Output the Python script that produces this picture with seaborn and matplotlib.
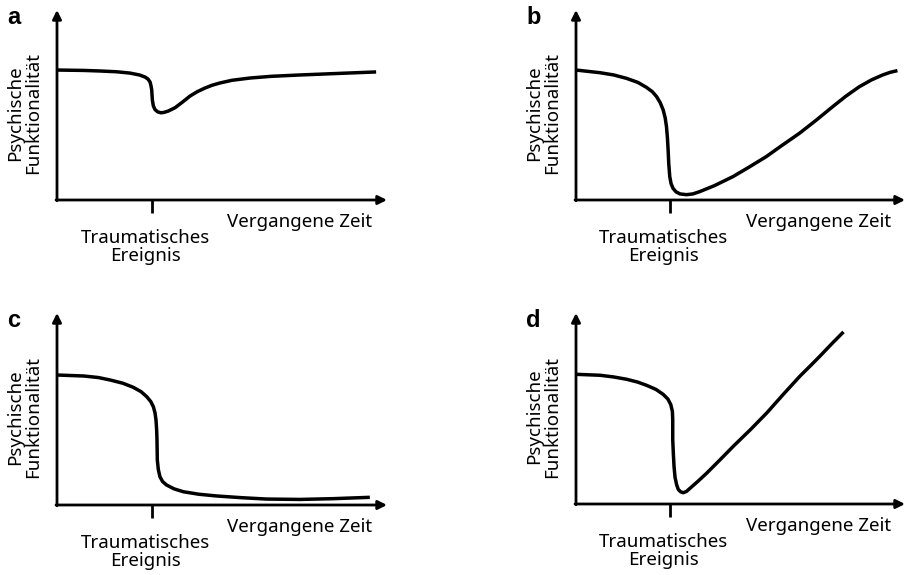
import numpy as np
import matplotlib as mpl
mpl.use('Agg')
import matplotlib.pyplot as plt
import seaborn as sns

################################################################################
# DATA (schematic curves; x = time, y = functioning)
################################################################################

event_time = 28.7

time_a = [0, 8, 13, 18, 22.1, 25, 26.7, 27.6, 28.2, 28.5, 28.7, 28.9, 29.2, 29.7,
          30.5, 31.5, 32.4, 33.7, 35.8, 38, 40.3, 42.5, 44.8, 47, 49.4, 53,
          58.5, 65, 73.6, 85, 96.7]
func_a = [68.4, 68.2, 67.9, 67.5, 66.8, 65.8, 64.7, 63.6, 62.1, 60, 57.9, 52.6,
          49.5, 47.6, 46.4, 45.9, 46.1, 46.8, 48.6, 51.5, 54.7, 57, 58.9, 60.4,
          61.6, 63, 64.2, 65.1, 65.8, 66.6, 67.4]

time_b = [0, 7.3, 11.5, 15.4, 18.8, 21.4, 23.2, 24.5, 25.6, 26.5, 27.1, 27.5,
          27.8, 28.0, 28.2, 28.5, 28.9, 29.5, 30.4, 31.6, 33.6, 35.5, 37.6, 42,
          47.7, 52.5, 57.8, 62.5, 67.9, 73, 78.0, 82, 86.1, 89.8, 93.2, 95.5, 97.7]
func_b = [68.4, 67.0, 65.8, 64.0, 61.9, 59.3, 57.0, 54.4, 51.2, 47.4, 43.3, 38.6,
          32.5, 26.3, 19, 12.3, 8.6, 6.1, 4.3, 3.2, 2.8, 3.2, 4.4, 7.5, 12.3, 17.2,
          22.8, 28.6, 35.1, 42.0, 49.1, 54.6, 59.6, 63.2, 65.8, 67.2, 68.1]

time_c = [0, 8.0, 12.5, 16.1, 20, 23.1, 25.5, 27.2, 28.4, 29.2, 29.7, 30.0, 30.2,
          30.3, 30.4, 30.7, 31.2, 32.0, 33.2, 35.5, 38.3, 43, 48.4, 56, 63.5,
          73.6, 83.7, 94.8]
func_c = [67.7, 67.2, 66.4, 65.1, 63.4, 61.3, 59.0, 56.4, 53.9, 51.2, 48.0, 44.3,
          39, 33.9, 23.4, 18.5, 14.7, 12.2, 10.4, 8.4, 6.9, 5.6, 4.7, 3.8, 3.1,
          2.9, 3.3, 4.0]

time_d = [0, 7.3, 11.5, 15.4, 18.8, 21.5, 24.3, 26.5, 27.9, 28.8, 29.3, 29.4,
          29.4, 29.4, 29.6, 29.8, 30.1, 30.6, 31.1, 31.8, 32.6, 33.6, 34.7, 37,
          39.7, 43.7, 47.8, 53, 58.0, 63, 68.1, 71.2, 74.2, 77.8, 81.3]
func_d = [67.9, 67.4, 66.5, 65.3, 63.8, 62.1, 60.0, 57.4, 55.0, 52.1, 48.5, 44.2,
          39, 33.7, 26, 19.6, 14, 10.0, 7.6, 6.4, 5.9, 6.6, 8.3, 11.8, 16.1,
          23.0, 30.2, 38.9, 47.7, 57.4, 67.0, 72.3, 77.5, 84.0, 90.1]

panel_letters = ['a', 'b', 'c', 'd']
panel_times = [time_a, time_b, time_c, time_d]
panel_funcs = [func_a, func_b, func_c, func_d]

ylabel_text = 'Psychische\nFunktionalität'
xlabel_text = 'Vergangene Zeit'
event_text = 'Traumatisches\nEreignis'

################################################################################
# PLOT
################################################################################

sns.set_theme(style='white')
plt.rcParams['font.family'] = ['Noto Sans', 'DejaVu Sans']
plt.rcParams['text.color'] = 'black'

W, H = 907, 575
fig = plt.figure(figsize=(W / 100, H / 100), dpi=100)

# axes boxes in pixels: (left, top arrow tip, right arrow tip, x-axis row)
boxes = [(57, 10, 387, 200), (576, 10, 905, 200),
         (57, 313, 387, 505), (576, 313, 905, 504)]

for letter, t, f, (l, top, r, bot) in zip(panel_letters, panel_times, panel_funcs, boxes):
    ax = fig.add_axes([l / W, 1 - bot / H, (r - l) / W, (bot - top) / H])
    ax.set_xlim(0, 100)
    ax.set_ylim(0, 100)
    for s in ax.spines.values():
        s.set_visible(False)
    ax.set_yticks([])
    ax.set_xticks([event_time])
    ax.set_xticklabels([''])
    ax.tick_params(axis='x', bottom=True, direction='out', length=9.5, width=2.0,
                   color='black', pad=0)

    # axes with arrow heads
    arrow = dict(arrowstyle='-|>', lw=2.0, color='black', shrinkA=0, shrinkB=0,
                 mutation_scale=13)
    ax.annotate('', xy=(0, 1), xytext=(0, -0.004), xycoords='axes fraction',
                arrowprops=arrow, annotation_clip=False)
    ax.annotate('', xy=(1, 0), xytext=(-0.003, 0), xycoords='axes fraction',
                arrowprops=arrow, annotation_clip=False)

    sns.lineplot(x=t, y=f, sort=False, estimator=None, color='black', lw=2.5,
                 ax=ax, clip_on=False, solid_capstyle='butt')

    ax.text(73.6, -11.6, xlabel_text, ha='center', va='center', fontsize=13.5,
            color='black', clip_on=False)
    ax.text(26.7, -24.5, event_text, ha='center', va='center', fontsize=13.5,
            linespacing=1.0, color='black', clip_on=False)
    ax.text(-9.9, 45.8, ylabel_text, ha='center', va='center', rotation=90,
            fontsize=13.5, linespacing=1.0, multialignment='center',
            color='black', clip_on=False)
    ax.text(-15.2, 92.5, letter, ha='left', va='baseline', fontsize=17,
            fontweight='bold', color='black',
            family=['Liberation Sans', 'DejaVu Sans'], clip_on=False)

fig.savefig('out.png', dpi=100)
